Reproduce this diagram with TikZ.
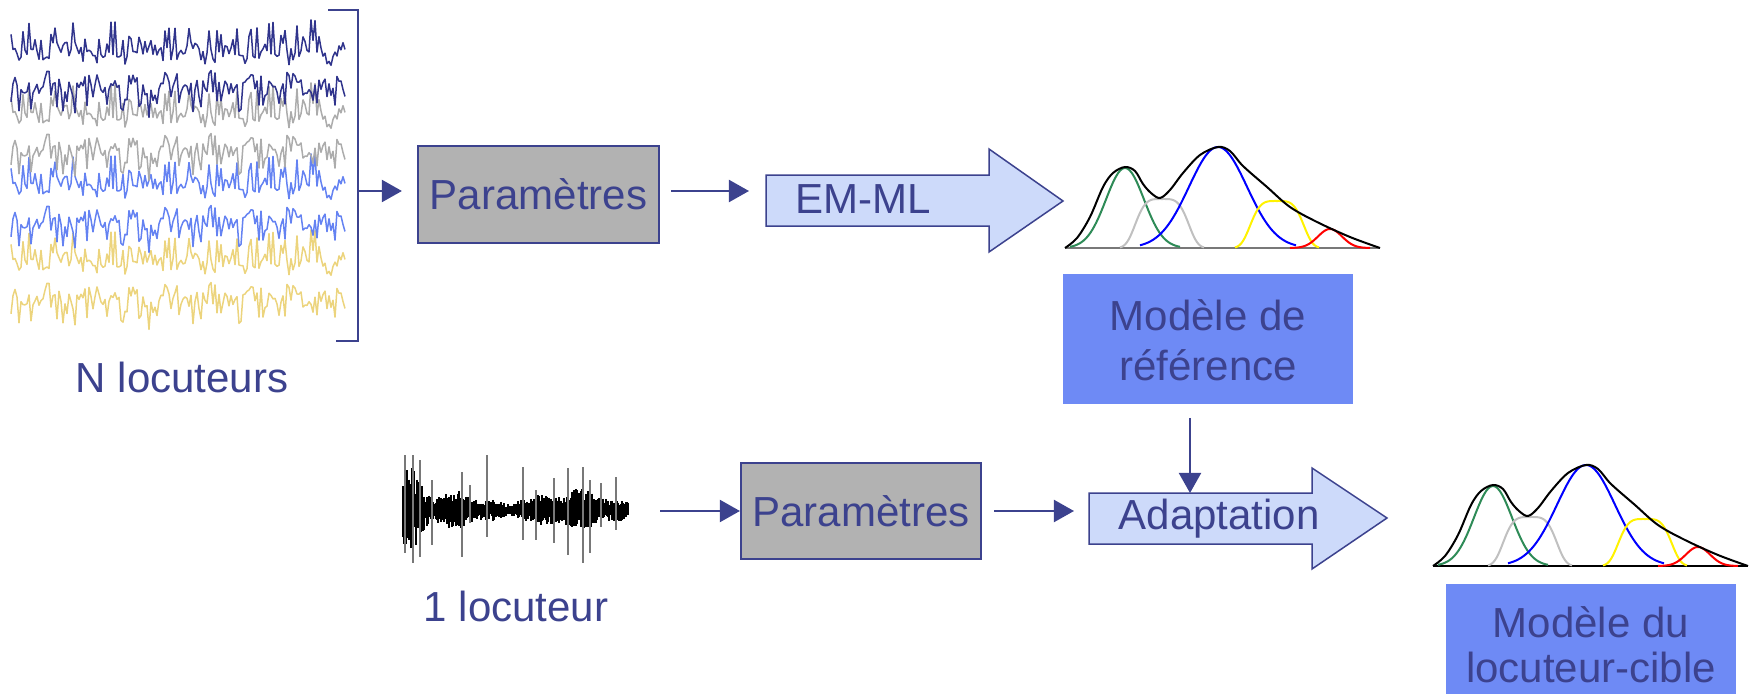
\documentclass[tikz,border=0pt]{standalone}
\usepackage{fontspec}
\setmainfont{Liberation Sans}
\usetikzlibrary{arrows.meta}
\definecolor{navy}{RGB}{60,66,142}
\definecolor{tracenavy}{RGB}{48,52,140}
\definecolor{tracegray}{RGB}{172,172,172}
\definecolor{traceblue}{RGB}{100,130,242}
\definecolor{traceyellow}{RGB}{236,212,125}
\definecolor{boxgray}{RGB}{178,178,178}
\definecolor{refblue}{RGB}{110,138,245}
\definecolor{arrowfill}{RGB}{205,218,250}
\definecolor{gmmgreen}{RGB}{46,139,87}
\definecolor{gmmgray}{RGB}{192,192,192}
\definecolor{spikegray}{RGB}{120,120,120}
\newcommand\drawgmm[1]{%
  \draw[#1, comp] (0,0) -- (315,0);
  \draw[gmmgreen, comp] plot[domain=5:115, samples=60] (\x, {80*gs(\x,60,19)});
  \draw[gmmgray, comp] plot[domain=55:139, samples=60] (\x, {49*sg(\x,97,29)});
  \draw[blue, comp] plot[domain=75:231, samples=80] (\x, {101*gs(\x,153,29)});
  \draw[yellow, comp] plot[domain=170:254, samples=60] (\x, {47*sg(\x,212,29)});
  \draw[red, comp] plot[domain=225:305, samples=60] (\x, {19*gs(\x,265,12)});
  \draw[black, comp] plot[smooth, tension=0.55] coordinates {(0,0) (12,10) (25,31) (38,61) (48,75) (60,81) (70,77) (78,64) (86,55) (95,50) (105,58) (118,75) (135,93) (153,101) (165,97) (178,82) (202,61) (225,41) (252,26) (285,11) (315,0)};
}
\begin{document}
\begin{tikzpicture}[x=0.01cm,y=-0.01cm,
 declare function={gs(\x,\m,\s)=exp(-((\x-\m)/\s)*((\x-\m)/\s)/2);
                   sg(\x,\m,\s)=exp(-(((\x-\m)/\s)*((\x-\m)/\s))^2);},
 lbl/.style={font=\fontsize{11.95}{14}\selectfont, text=navy, inner sep=0},
 parbox/.style={draw=navy, line width=0.02cm, fill=boxgray, minimum width=2.4cm, minimum height=0.96cm, inner sep=0, font=\fontsize{11.95}{14}\selectfont, text=navy},
 modelbox/.style={fill=refblue, inner sep=0, minimum width=2.9cm, minimum height=1.3cm},
 conn/.style={draw=navy, line width=0.02cm, -{Triangle[length=0.2cm,width=0.22cm]}},
 fatarrow/.style={draw=navy, line width=0.015cm, fill=arrowfill, line join=miter},
 comp/.style={line width=0.02cm},
 trace/.style={line width=0.015cm, line join=round},
]
\useasboundingbox (0,0) rectangle (1753,694);
\clip (0,0) rectangle (1753,694);

% N speakers signals
\foreach \yc/\col in {52/tracenavy,115/tracegray,186/traceblue,262/traceyellow}{
  \pgfmathsetseed{17}
  \draw[\col, trace] plot[samples=168, domain=11:345] (\x, {\yc + 5*sin(\x*9) + 9*rand - 20*(rnd>0.85)});
}
\foreach \yc/\col in {84/tracenavy,147/tracegray,219/traceblue,296/traceyellow}{
  \pgfmathsetseed{29}
  \draw[\col, trace] plot[samples=168, domain=11:345] (\x, {\yc - 5*sin(\x*9) + 9*rand + 20*(rnd>0.85)});
}
\draw[navy, line width=0.02cm] (328,10) -- (358,10) -- (358,341) -- (336,341);
\coordinate (brk) at (358,191);
\node[lbl, anchor=base] (nloc) at (182,393) {N locuteurs};

% top row
\node[parbox, minimum width=2.41cm, minimum height=0.97cm] (par1) at (538.5,194.5) {Paramètres};
\draw[fatarrow] (766,175) -- (989,175) -- (989,149) -- (1063,201) -- (989,252) -- (989,226) -- (766,226) -- cycle;
\coordinate (emml-w) at (766,200.5);
\node[lbl, anchor=base west] (emml) at (795,213) {EM-ML};
\draw[conn, shorten >=0.15cm] (brk) -- (brk -| par1.west);
\draw[conn, shorten <=0.11cm, shorten >=0.17cm] (par1.east |- brk) -- (brk -| emml-w);

\begin{scope}[shift={(1065,248)}, yscale=-1]
  \drawgmm{spikegray}
\end{scope}

\node[modelbox] (ref) at (1208,339) {};
\node[lbl, anchor=base] (ref1) at (1208,330) {Modèle de};
\node[lbl, anchor=base] (ref2) at (1208,380) {référence};

% bottom row
\foreach \i in {0,...,180}{
  \pgfmathsetmacro\xx{403+1.25*\i}
  \pgfmathsetmacro\env{11+32*exp(-min(((\xx-410)/13)*((\xx-410)/13),40))+9*exp(-min(((\xx-455)/15)*((\xx-455)/15),40))+11*exp(-min(((\xx-580)/15)*((\xx-580)/15),40))+5*exp(-min(((\xx-540)/15)*((\xx-540)/15),40))-5*exp(-min(((\xx-510)/10)*((\xx-510)/10),40))}
  \pgfmathsetmacro\up{\env*(0.4+0.6*rnd)}
  \pgfmathsetmacro\dn{\env*(0.4+0.6*rnd)}
  \draw[black, line width=0.02cm] (\xx,{510-\up}) -- (\xx,{510+\dn});
}
\foreach \sx/\su/\sd in {405/55/43,413/55/53,420/50/47,432/30/35,462/38/47,470/25/13,487/55/27,523/43/30,536/20/30,554/32/33,568/42/45,583/43/53,590/30/43,601/27/17,616/33/20}{
  \draw[spikegray, line width=0.016cm] (\sx,{510-\su}) -- (\sx,{510+\sd});
}
\coordinate (wave-e) at (660,511);
\node[lbl, anchor=base] (oneloc) at (516,621) {1 locuteur};

\node[parbox] (par2) at (861,511) {Paramètres};
\draw[fatarrow] (1089,493) -- (1312,493) -- (1312,468) -- (1387,518) -- (1312,569) -- (1312,544) -- (1089,544) -- cycle;
\coordinate (adap-w) at (1089,518);
\coordinate (adap-n) at (1190,493);
\node[lbl, anchor=base west] (adap) at (1118,529) {Adaptation};

\draw[conn] (wave-e) -- (par2.west);
\draw[conn, shorten <=0.12cm, shorten >=0.15cm] (par2.east) -- (adap-w |- par2.east);
\draw[conn, shorten <=0.13cm] (ref.south -| adap-n) -- (adap-n);

\begin{scope}[shift={(1433,566)}, yscale=-1]
  \drawgmm{black}
\end{scope}

\node[modelbox, anchor=north] (cible) at (1591,583) {};
\node[lbl, anchor=base] (cible1) at (1591,637) {Modèle du};
\node[lbl, anchor=base] (cible2) at (1591,682) {locuteur-cible};
\end{tikzpicture}
\end{document}
